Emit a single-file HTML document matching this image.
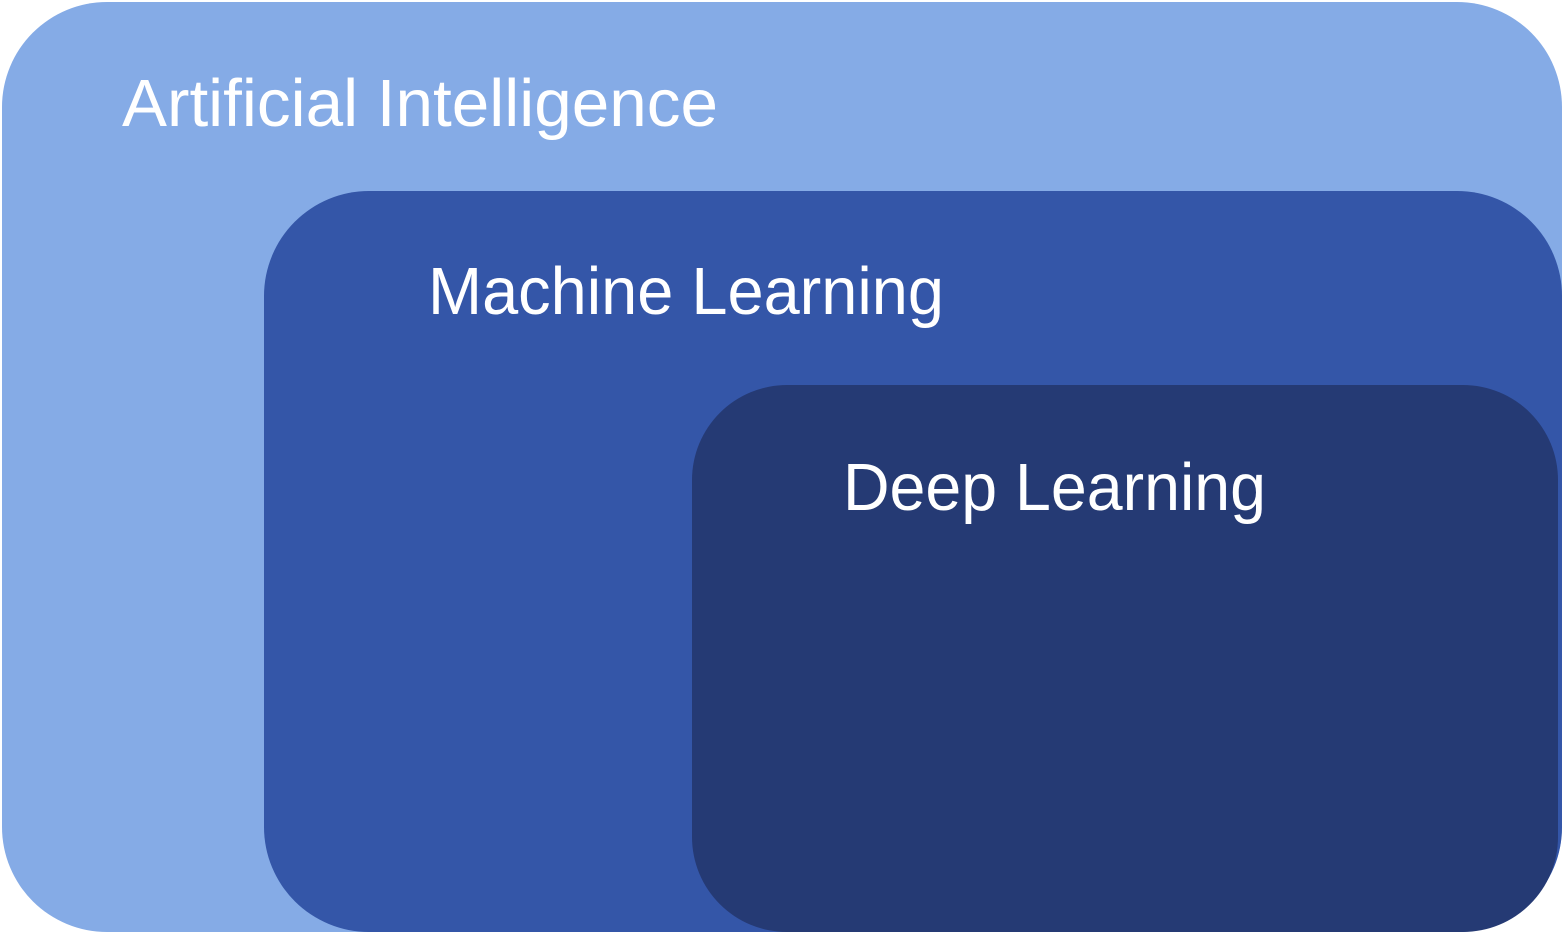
<!DOCTYPE html>
<html><head><meta charset="utf-8"><style>
html,body{margin:0;padding:0;background:#fff;}
body{width:1564px;height:936px;overflow:hidden;position:relative;}
.r{position:absolute;border-radius:105px;}
</style></head><body>
<div class="r" style="left:2px;top:2px;width:1560px;height:930px;background:#85abe6;"></div>
<div class="r" style="left:264px;top:191px;width:1298px;height:741px;background:#3456a8;"></div>
<div class="r" style="left:692px;top:385px;width:866px;height:547px;background:#253a74;border-radius:95px;"></div>
<svg width="1564" height="936" style="position:absolute;left:0;top:0" font-family="Liberation Sans, sans-serif" fill="#fff" font-size="67">
<text x="122" y="126" textLength="596" lengthAdjust="spacingAndGlyphs">Artificial Intelligence</text>
<text x="428" y="314" textLength="516" lengthAdjust="spacingAndGlyphs">Machine Learning</text>
<text x="843" y="510" textLength="423" lengthAdjust="spacingAndGlyphs">Deep Learning</text>
</svg>
</body></html>
